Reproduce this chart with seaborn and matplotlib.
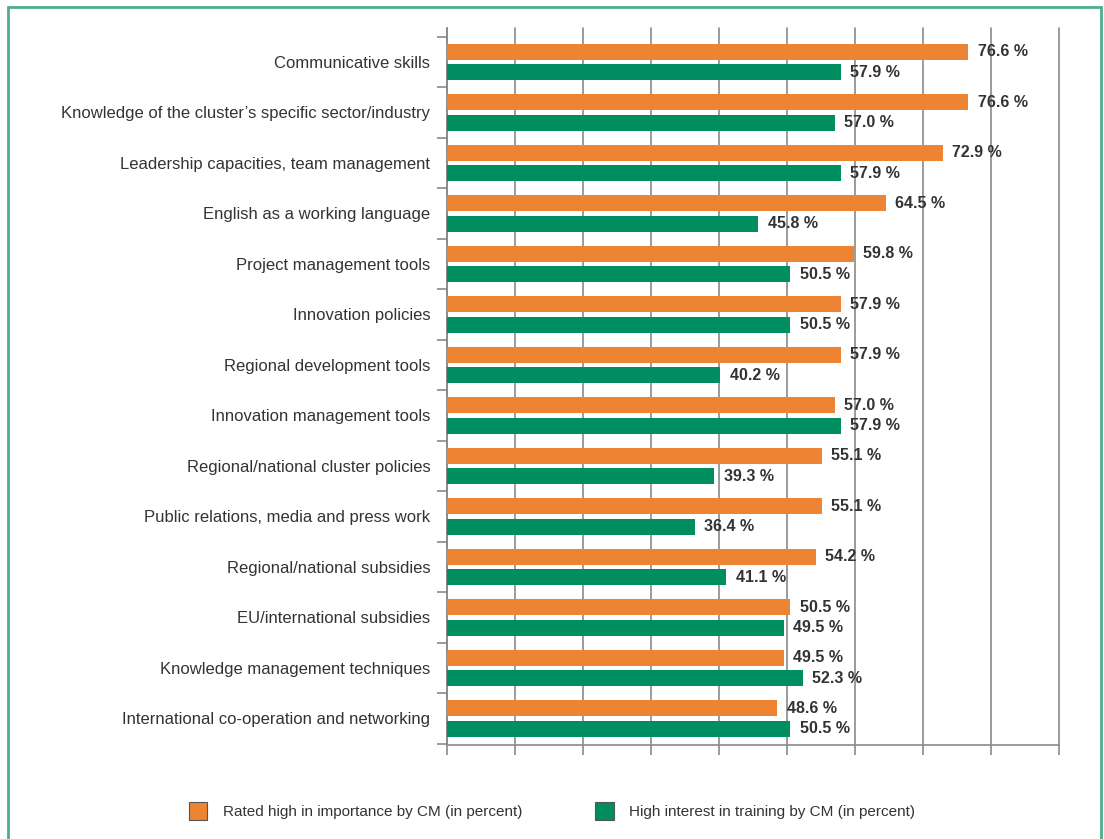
import numpy as np
import pandas as pd
import matplotlib
matplotlib.use("Agg")
import matplotlib.pyplot as plt
import matplotlib.patches as mpatches
import seaborn as sns

# data
skills = [
    "Communicative skills",
    "Knowledge of the cluster\u2019s specific sector/industry",
    "Leadership capacities, team management",
    "English as a working language",
    "Project management tools",
    "Innovation policies",
    "Regional development tools",
    "Innovation management tools",
    "Regional/national cluster policies",
    "Public relations, media and press work",
    "Regional/national subsidies",
    "EU/international subsidies",
    "Knowledge management techniques",
    "International co-operation and networking",
]
importance = [76.6, 76.6, 72.9, 64.5, 59.8, 57.9, 57.9, 57.0, 55.1, 55.1, 54.2, 50.5, 49.5, 48.6]
training = [57.9, 57.0, 57.9, 45.8, 50.5, 50.5, 40.2, 57.9, 39.3, 36.4, 41.1, 49.5, 52.3, 50.5]
series_names = ["Rated high in importance by CM (in percent)",
                "High interest in training by CM (in percent)"]

orange = "#ED8433"
green = "#008E60"
gray = "#8a8a8a"
txt = "#333333"

sns.set_style("white")
plt.rcParams["font.family"] = ["Liberation Sans", "DejaVu Sans"]

df = pd.DataFrame({
    "skill": skills * 2,
    "value": importance + training,
    "series": [series_names[0]] * len(skills) + [series_names[1]] * len(skills),
})

fig = plt.figure(figsize=(11.04, 8.39), dpi=100)
ax = fig.add_axes([447 / 1104, 1 - 745 / 839, (1059 - 447) / 1104, (745 - 28) / 839])

sns.barplot(data=df, y="skill", x="value", hue="series", orient="h",
            palette=[orange, green], order=skills, hue_order=series_names,
            width=0.8, gap=0.2, saturation=1, ax=ax, legend=False, edgecolor="none")

for cont in ax.containers:
    for bar in cont:
        bar.set_zorder(3)
    ax.bar_label(cont, labels=[f"{v:.1f} %" for v in cont.datavalues],
                 padding=7, fontsize=11.5, fontweight="bold", color=txt, zorder=4)

ax.set_xlim(0, 90)
ax.set_ylim(13.525, -0.673)
ax.set_xlabel("")
ax.set_ylabel("")
ax.set_xticks(np.arange(0, 91, 10))
ax.set_xticklabels([])
ax.tick_params(axis="x", direction="out", length=7, width=1.2, color=gray, bottom=True)
ax.grid(axis="x", color=gray, linewidth=1.2)
for gl in ax.get_xgridlines():
    gl.set_zorder(0.5)
    gl.set_clip_on(False)

ax.set_yticks(range(len(skills)))
ax.set_yticklabels(skills, fontsize=12, color=txt)
ax.tick_params(axis="y", which="major", length=0, pad=12)
ax.set_yticks(np.arange(-0.5, len(skills), 1.0), minor=True)
ax.tick_params(axis="y", which="minor", direction="out", length=7, width=1.2, color=gray, left=True)

for s in ["top", "right"]:
    ax.spines[s].set_visible(False)
for s in ["left", "bottom"]:
    ax.spines[s].set_color(gray)
    ax.spines[s].set_linewidth(1.2)

# green frame around the panel
frame = mpatches.Rectangle((8 / 1104, -0.02), (1101 - 8) / 1104, 1 - 7 / 839 + 0.02,
                           transform=fig.transFigure, fill=False,
                           edgecolor="#4CAF8B", linewidth=2, clip_on=False)
fig.patches.append(frame)

handles = [mpatches.Patch(facecolor=orange, edgecolor="#555555", linewidth=0.8, label=series_names[0]),
           mpatches.Patch(facecolor=green, edgecolor="#555555", linewidth=0.8, label=series_names[1])]
fig.legend(handles=handles, loc="center", bbox_to_anchor=(0.5, 1 - 811 / 839), ncol=2,
           frameon=False, fontsize=11, handlelength=1.2, handleheight=1.45,
           handletextpad=1.0, columnspacing=4.8, labelcolor=txt)

fig.savefig("out.png", dpi=100, facecolor="white")
